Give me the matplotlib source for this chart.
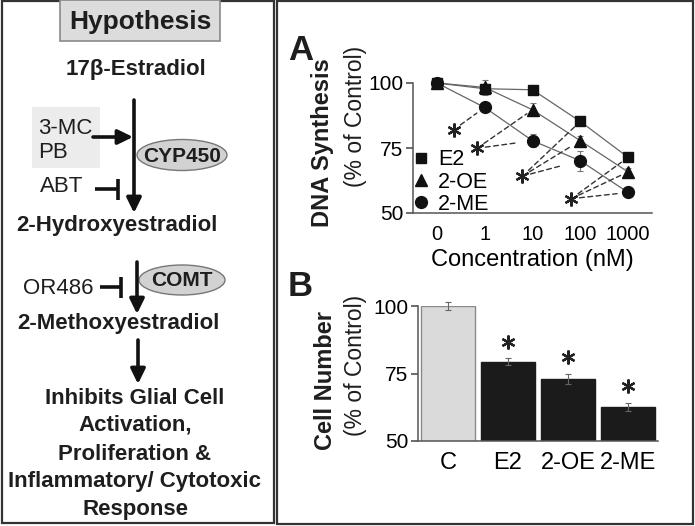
import matplotlib
matplotlib.use('Agg')
import matplotlib.pyplot as plt
from matplotlib.patches import Rectangle, Ellipse
from matplotlib.lines import Line2D

plt.rcParams['font.family'] = ['Liberation Sans', 'DejaVu Sans']

# ---------------- data ----------------
conc_labels = ['0', '1', '10', '100', '1000']
dna_e2 = [100, 97.8, 97.4, 85.2, 71.4]
dna_e2_err = [1.0, 1.5, 1.2, 1.5, 1.2]
dna_2oe = [100, 98.3, 89.7, 77.8, 65.8]
dna_2oe_err = [1.0, 3.0, 2.5, 2.0, 1.5]
dna_2me = [100, 90.6, 77.8, 70.1, 57.9]
dna_2me_err = [1.0, 1.5, 2.5, 3.8, 1.2]
series_names = ['E2', '2-OE', '2-ME']

cell_groups = ['C', 'E2', '2-OE', '2-ME']
cell_values = [100, 79.4, 73.0, 62.6]
cell_err = [1.3, 1.2, 2.0, 1.6]
cell_signif = [False, True, True, True]

W, H = 695, 526
fig = plt.figure(figsize=(W / 100, H / 100), dpi=100)


def fx(x):
    return x / W


def fy(y):
    return 1 - y / H


TXT = '#1e1e1e'

# ---------------- background / diagram ----------------
ax0 = fig.add_axes([0, 0, 1, 1])
ax0.set_xlim(0, W)
ax0.set_ylim(H, 0)
ax0.axis('off')

ax0.add_patch(Rectangle((2, 1), 272, 522, fill=False, ec='#333333', lw=1.6))
ax0.add_patch(Rectangle((277, 1), 416, 523, fill=False, ec='#333333', lw=1.6))

ax0.add_patch(Rectangle((60, 0), 160, 41, fc='#dcdcdc', ec='#8a8a8a', lw=1.2))
ax0.text(140, 22, 'Hypothesis', ha='center', va='center', fontsize=19,
         fontweight='bold', color=TXT)
ax0.text(136, 70, '17β-Estradiol', ha='center', va='center', fontsize=16,
         fontweight='bold', color=TXT)

ax0.add_patch(Rectangle((32, 107), 68, 61, fc='#ececec', ec='none'))
ax0.text(38, 128, '3-MC', ha='left', va='center', fontsize=16, color=TXT)
ax0.text(38, 153, 'PB', ha='left', va='center', fontsize=16, color=TXT)
ax0.text(40, 186, 'ABT', ha='left', va='center', fontsize=16, color=TXT)

arrow_kw = dict(arrowstyle='-|>,head_length=0.45,head_width=0.22',
                lw=2.6, color='#111111', mutation_scale=20,
                shrinkA=0, shrinkB=0)
ax0.annotate('', xy=(134, 213), xytext=(134, 100), arrowprops=arrow_kw)
ax0.annotate('', xy=(133, 137), xytext=(93, 137), arrowprops=arrow_kw)
ax0.plot([95, 118], [189, 189], color='#111111', lw=2.6, solid_capstyle='butt')
ax0.plot([118, 118], [179, 200], color='#111111', lw=2.6, solid_capstyle='butt')

ax0.add_patch(Ellipse((182, 155), 90, 31, fc='#d2d2d2', ec='#777777', lw=1.0))
ax0.text(182, 156, 'CYP450', ha='center', va='center', fontsize=15,
         fontweight='bold', color=TXT)

ax0.text(117, 225, '2-Hydroxyestradiol', ha='center', va='center', fontsize=16,
         fontweight='bold', color=TXT)

ax0.annotate('', xy=(137, 314), xytext=(137, 262), arrowprops=arrow_kw)
ax0.add_patch(Ellipse((182, 280), 86, 30, fc='#d2d2d2', ec='#777777', lw=1.0))
ax0.text(182, 281, 'COMT', ha='center', va='center', fontsize=15,
         fontweight='bold', color=TXT)
ax0.text(23, 289, 'OR486', ha='left', va='center', fontsize=16, color=TXT)
ax0.plot([100, 121], [287, 287], color='#111111', lw=2.6, solid_capstyle='butt')
ax0.plot([121, 121], [277, 298], color='#111111', lw=2.6, solid_capstyle='butt')

ax0.text(118, 323, '2-Methoxyestradiol', ha='center', va='center', fontsize=16,
         fontweight='bold', color=TXT)
ax0.annotate('', xy=(138, 384), xytext=(138, 340), arrowprops=arrow_kw)

for yy, line in zip([398, 425, 455, 482, 509],
                    ['Inhibits Glial Cell', 'Activation,', 'Proliferation &',
                     'Inflammatory/ Cytotoxic', 'Response']):
    ax0.text(135, yy, line, ha='center', va='center', fontsize=16,
             fontweight='bold', color=TXT)

# ---------------- panel A ----------------
axA = fig.add_axes([fx(413), fy(213), fx(652) - fx(413), fy(83) - fy(213)])
xs = list(range(len(conc_labels)))
markers = ['s', '^', 'o']
msizes = [7.5, 8.5, 8.5]
for vals, errs, m, ms in zip([dna_e2, dna_2oe, dna_2me],
                             [dna_e2_err, dna_2oe_err, dna_2me_err], markers, msizes):
    axA.errorbar(xs, vals, yerr=errs, fmt='none', ecolor='#777777', elinewidth=0.8,
                 capsize=2, capthick=0.8, clip_on=False, zorder=2)
    axA.plot(xs, vals, color='#666666', lw=0.9, clip_on=False, zorder=3)
    axA.plot(xs, vals, linestyle='none', marker=m, ms=ms, color='#111111',
             clip_on=False, zorder=4)

# significance asterisks with dashed pointers: (asterisk x, asterisk y, targets)
star_pos = [(0.35, 82.0), (0.84, 74.9), (1.79, 64.2), (2.81, 55.5)]
star_targets = [[(dna_2me, 1, 7)],
                [(dna_2oe, 2, 5), (dna_2me, 2, 12)],
                [(dna_e2, 3, 5), (dna_2oe, 3, 7), (dna_2me, 3, 15)],
                [(dna_e2, 4, 6), (dna_2oe, 4, 6), (dna_2me, 4, 8)]]
for (sx, sy), targets in zip(star_pos, star_targets):
    axA.plot(sx, sy, marker=(6, 2, 0), ms=10, mew=1.6, color='#222222',
             linestyle='none', clip_on=False, zorder=5)
    for series, idx, shr in targets:
        axA.annotate('', xy=(idx, series[idx]), xytext=(sx, sy),
                     arrowprops=dict(arrowstyle='-', linestyle=(0, (3.5, 2.5)),
                                     lw=1.0, color='#333333',
                                     shrinkA=6, shrinkB=shr),
                     annotation_clip=False)

axA.set_xlim(-0.5, 4.5)
axA.set_ylim(50, 100)
axA.set_yticks([50, 75, 100])
axA.set_xticks(xs)
axA.set_xticklabels(conc_labels)
axA.tick_params(axis='y', direction='out', length=5, width=1.1, labelsize=15,
                pad=2, color='#444444')
axA.tick_params(axis='x', length=0, labelsize=14.5, pad=9)
for s in ['top', 'right']:
    axA.spines[s].set_visible(False)
for s in ['left', 'bottom']:
    axA.spines[s].set_color('#555555')
    axA.spines[s].set_linewidth(1.1)
axA.set_xlabel('Concentration (nM)', fontsize=17, labelpad=3)
axA.patch.set_alpha(0)

handles = [Line2D([], [], linestyle='none', marker=m, ms=ms, color='#111111')
           for m, ms in zip(markers, msizes)]
fig.legend(handles, series_names, loc='center left',
           bbox_to_anchor=(fx(411), fy(182)), frameon=False, fontsize=15.5,
           handlelength=0.9, handletextpad=0.35, borderpad=0, borderaxespad=0,
           labelspacing=0.05)

fig.text(fx(288), fy(50), 'A', fontsize=25, fontweight='bold', ha='left',
         va='center', color=TXT)
fig.text(fx(323), fy(143), 'DNA Synthesis', rotation=90, fontsize=17,
         fontweight='bold', ha='center', va='center', color=TXT)
fig.text(fx(355), fy(116), '(% of Control)', rotation=90, fontsize=16.5,
         ha='center', va='center', color=TXT)

# ---------------- panel B ----------------
axB = fig.add_axes([fx(418), fy(441), fx(658) - fx(418), fy(306) - fy(441)])
bx = list(range(len(cell_groups)))
bar_colors = ['#dadada'] + ['#1b1b1b'] * (len(cell_groups) - 1)
bar_edges = ['#8a8a8a'] + ['#1b1b1b'] * (len(cell_groups) - 1)
axB.bar(bx, cell_values, width=0.9, color=bar_colors, edgecolor=bar_edges,
        linewidth=1.0, zorder=2)
axB.errorbar(bx, cell_values, yerr=cell_err, fmt='none', ecolor='#666666',
             elinewidth=0.8, capsize=2, capthick=0.8, zorder=3, clip_on=False)
for x, v, e, sig in zip(bx, cell_values, cell_err, cell_signif):
    if sig:
        axB.plot(x, v + e + 6.0, marker=(6, 2, 0), ms=10, mew=1.6,
                 color='#222222', linestyle='none', clip_on=False)
axB.set_xlim(-0.5, 3.5)
axB.set_ylim(50, 100)
axB.set_yticks([50, 75, 100])
axB.set_xticks(bx)
axB.set_xticklabels(cell_groups)
axB.tick_params(axis='y', direction='out', length=5, width=1.1, labelsize=15,
                pad=2, color='#444444')
axB.tick_params(axis='x', length=0, labelsize=17, pad=8)
for s in ['top', 'right']:
    axB.spines[s].set_visible(False)
for s in ['left', 'bottom']:
    axB.spines[s].set_color('#555555')
    axB.spines[s].set_linewidth(1.1)
axB.patch.set_alpha(0)

fig.text(fx(288), fy(287), 'B', fontsize=25, fontweight='bold', ha='left',
         va='center', color=TXT)
fig.text(fx(325), fy(381), 'Cell Number', rotation=90, fontsize=17,
         fontweight='bold', ha='center', va='center', color=TXT)
fig.text(fx(355), fy(365), '(% of Control)', rotation=90, fontsize=16.5,
         ha='center', va='center', color=TXT)

fig.savefig('out.png', dpi=100)
